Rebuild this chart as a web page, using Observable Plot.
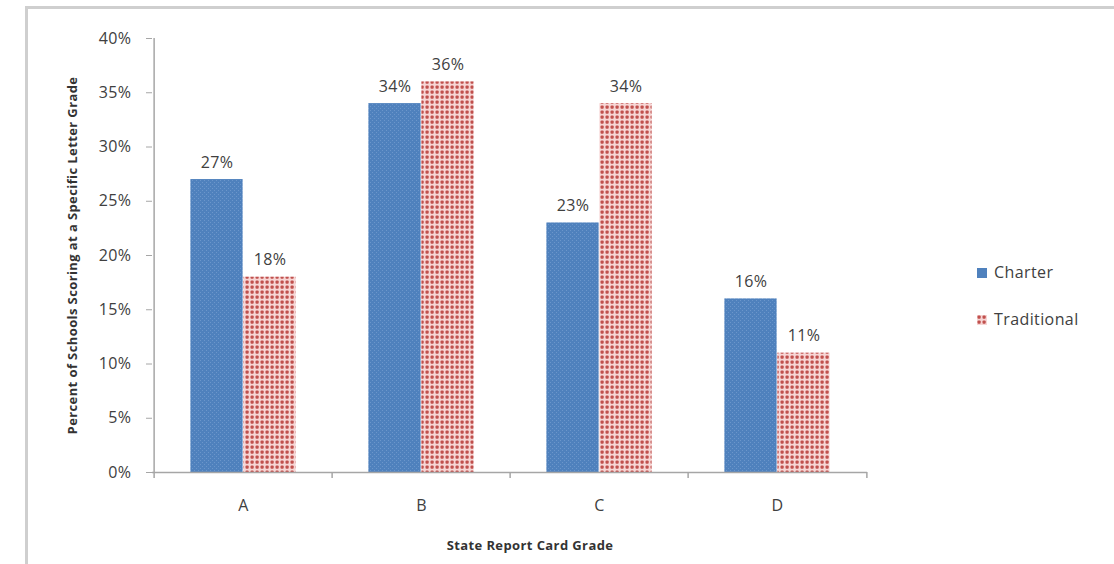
<!DOCTYPE html>
<html>
<head>
<meta charset="utf-8">
<script src="https://cdn.jsdelivr.net/npm/d3@7"></script>
<script src="https://cdn.jsdelivr.net/npm/@observablehq/plot@0.6"></script>
<style>
  html, body { margin: 0; padding: 0; background: #fff; }
  #wrap { position: relative; width: 1114px; height: 564px; overflow: hidden; font-family: "Open Sans", sans-serif; color: #404040; }
  #border { position: absolute; left: 25px; top: 6px; width: 1200px; height: 700px; border-left: 3px solid #cfcfcf; border-top: 3px solid #cfcfcf; box-sizing: border-box; }
  #chart { position: absolute; left: 0; top: 0; }
  .leg { position: absolute; font-size: 16px; line-height: 1; white-space: nowrap; letter-spacing: 0.4px; }
  .leg .sw { display: inline-block; width: 10px; height: 10px; margin-right: 7px; vertical-align: 0px; }
</style>
</head>
<body>
<div id="wrap">
  <div id="border"></div>
  <div id="chart"></div>
  <div class="leg" style="left:977px; top:264px;"><span class="sw" style="background:#4f81bd"></span>Charter</div>
  <div class="leg" style="left:977px; top:311px;"><svg class="sw" width="10" height="10" style="overflow:visible"><rect width="10" height="10" fill="url(#redPat)"/></svg>Traditional</div>
</div>
<script>
const grades = ["A", "B", "C", "D"];
const seriesNames = ["Charter", "Traditional"];
const charter = [27, 34, 23, 16];
const traditional = [18, 36, 34, 11];
const yTicks = [0, 5, 10, 15, 20, 25, 30, 35, 40];
const xTitle = "State Report Card Grade";
const yTitle = "Percent of Schools Scoring at a Specific Letter Grade";

const charterData = grades.map((g, i) => ({grade: g, series: seriesNames[0], value: charter[i]}));
const tradData = grades.map((g, i) => ({grade: g, series: seriesNames[1], value: traditional[i]}));

const W = 1114, H = 564, mL = 152, mR = 247, mT = 38, mB = 92;
const step = (W - mL - mR) / grades.length;
const barW = 53;
const axisGray = "#a6a6a6";

const chart = Plot.plot({
  width: W, height: H,
  marginLeft: mL, marginRight: mR, marginTop: mT, marginBottom: mB,
  style: {fontFamily: "Open Sans, sans-serif", fontSize: "16px", color: "#404040", background: "transparent", overflow: "visible", letterSpacing: "0.4px"},
  x: {domain: grades, padding: 0, axis: null},
  y: {domain: [0, d3.max(yTicks)], axis: null},
  marks: [
    Plot.barY(charterData, {x: "grade", y: "value", fill: "url(#bluePat)", insetLeft: step / 2 - barW, insetRight: step / 2}),
    Plot.barY(tradData, {x: "grade", y: "value", fill: "url(#redPat)", insetLeft: step / 2, insetRight: step / 2 - barW}),
    Plot.text(charterData, {x: "grade", y: "value", text: d => d.value + "%", dx: -barW / 2, dy: -17, fill: "#404040"}),
    Plot.text(tradData, {x: "grade", y: "value", text: d => d.value + "%", dx: barW / 2, dy: -17, fill: "#404040"}),
    Plot.ruleY([0], {stroke: axisGray, strokeWidth: 1.5}),
    Plot.ruleX([grades[0]], {dx: -step / 2, y1: 0, y2: d3.max(yTicks), stroke: axisGray, strokeWidth: 1.5}),
    Plot.ruleX(grades, {dx: -step / 2, y1: 0, y2: 0, insetBottom: -6, stroke: axisGray, strokeWidth: 1.5}),
    Plot.ruleX([grades[grades.length - 1]], {dx: step / 2, y1: 0, y2: 0, insetBottom: -6, stroke: axisGray, strokeWidth: 1.5}),
    Plot.axisY({ticks: yTicks, tickFormat: d => d + "%", tickSize: 6, tickPadding: 15, stroke: axisGray, fill: "#404040", label: null}),
    Plot.axisX({tickSize: 0, tickPadding: 27, fill: "#404040", label: null}),
    Plot.text([xTitle], {frameAnchor: "bottom", dy: 77, dx: 20, fontWeight: "bold", fontSize: 13, fill: "#333", letterSpacing: "0.4px"}),
    Plot.text([yTitle], {frameAnchor: "left", textAnchor: "middle", rotate: -90, dx: -80, fontWeight: "bold", fontSize: 13, fill: "#333", letterSpacing: "0.6px"})
  ]
});

const ns = "http://www.w3.org/2000/svg";
const defs = document.createElementNS(ns, "defs");
defs.innerHTML = `
  <pattern id="bluePat" width="4" height="4" patternUnits="userSpaceOnUse">
    <rect width="4" height="4" fill="#4f81bd"/>
    <rect x="0" y="0" width="1" height="1" fill="#6b96cb"/>
    <rect x="2" y="2" width="1" height="1" fill="#6b96cb"/>
  </pattern>
  <pattern id="redPat" width="5" height="5" patternUnits="userSpaceOnUse">
    <rect width="5" height="5" fill="#f7d6d5"/>
    <rect x="0.5" y="0.5" width="3.2" height="3.2" rx="1" fill="#c0504d"/>
  </pattern>`;
chart.insertBefore(defs, chart.firstChild);
document.getElementById("chart").appendChild(chart);
</script>
</body>
</html>
